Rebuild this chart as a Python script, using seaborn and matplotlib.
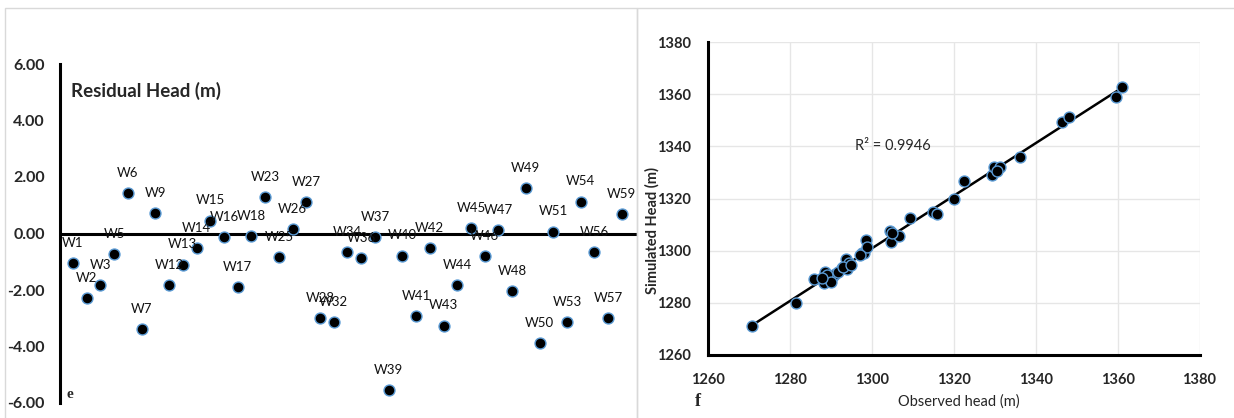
import numpy as np
import pandas as pd
import matplotlib
matplotlib.use("Agg")
import matplotlib.pyplot as plt
import seaborn as sns
from matplotlib.patches import Rectangle

# Residual head at each observation well
wells = ["W1", "W2", "W3", "W5", "W6", "W7", "W9", "W12", "W13", "W14",
         "W15", "W16", "W17", "W18", "W23", "W25", "W26", "W27", "W28", "W32",
         "W34", "W36", "W37", "W39", "W40", "W41", "W42", "W43", "W44", "W45",
         "W46", "W47", "W48", "W49", "W50", "W51", "W53", "W54", "W56", "W57",
         "W59"]
residual = [-1.04, -2.28, -1.84, -0.74, 1.44, -3.38, 0.71, -1.84, -1.10, -0.51,
            0.46, -0.12, -1.89, -0.09, 1.29, -0.83, 0.17, 1.11, -3.00, -3.12,
            -0.65, -0.86, -0.13, -5.53, -0.78, -2.91, -0.52, -3.26, -1.84, 0.19,
            -0.80, 0.12, -2.04, 1.60, -3.88, 0.07, -3.14, 1.13, -0.65, -3.00,
            0.68]
resid_ticks = [-6, -4, -2, 0, 2, 4, 6]

# Observed vs simulated heads (m)
observed = [1270.7, 1281.4, 1285.8, 1288.6, 1288.4, 1289.6, 1290.6, 1291.1, 1292.6, 1293.6,
            1294.4, 1293.9, 1297.6, 1298.2, 1298.6, 1298.8, 1304.5, 1304.7, 1306.7, 1309.3,
            1315.0, 1315.8, 1320.1, 1322.6, 1329.3, 1329.8, 1331.3, 1336.2, 1346.5, 1348.1,
            1359.5, 1361.1, 1289.0, 1290.0, 1287.8, 1291.8, 1293.0, 1294.8, 1297.0, 1330.5,
            1305.0]
simulated = [1271.1, 1279.8, 1289.1, 1291.9, 1287.5, 1289.0, 1290.3, 1291.0, 1293.2, 1296.8,
             1295.1, 1292.9, 1299.0, 1299.0, 1304.1, 1301.5, 1307.7, 1303.4, 1305.6, 1312.4,
             1314.8, 1314.0, 1320.0, 1326.7, 1329.0, 1331.9, 1332.1, 1336.0, 1349.4, 1351.1,
             1358.9, 1362.9, 1290.5, 1288.0, 1289.6, 1292.0, 1293.8, 1294.4, 1298.5, 1330.6,
             1306.8]
head_ticks = [1260, 1280, 1300, 1320, 1340, 1360, 1380]
r2_text = "R² = 0.9946"

sns.set_theme(style="white")
plt.rcParams["font.family"] = ["Lato", "DejaVu Sans"]

W, H = 1234, 418
fig = plt.figure(figsize=(W / 100, H / 100), dpi=100)


def px_axes(x0, y0, x1, y1):
    return fig.add_axes([x0 / W, 1 - y1 / H, (x1 - x0) / W, (y1 - y0) / H])


def fx(x):
    return x / W


def fy(y):
    return 1 - y / H


# Panel frames
border = "#d9d9d9"
fig.add_artist(Rectangle((fx(5), fy(425)), fx(632), fy(8) - fy(425),
                         transform=fig.transFigure, fill=False, ec=border, lw=1))
fig.add_artist(Rectangle((fx(637), fy(425)), fx(620), fy(8) - fy(425),
                         transform=fig.transFigure, fill=False, ec=border, lw=1))

marker_kw = dict(s=62, color="black", edgecolor="#5b9bd5", linewidth=1.0, zorder=3)

# ---- Residual panel ----
axL = px_axes(60, 64, 637, 403)
axL.patch.set_alpha(0)
resid_df = pd.DataFrame({"well": wells, "pos": np.arange(len(wells)), "residual": residual})
axL.axhline(0, color="black", lw=2.2, zorder=2)
sns.scatterplot(data=resid_df, x="pos", y="residual", ax=axL, legend=False, **marker_kw)
for pos, name, val in zip(resid_df["pos"], resid_df["well"], resid_df["residual"]):
    axL.annotate(name, (pos, val), xytext=(0, 14.5), textcoords="offset points",
                 ha="center", va="center", fontsize=9.5, color="#111111", zorder=4)
axL.set_xlim(-0.95, 41.1)
axL.set_ylim(-6, 6)
axL.set_xticks([])
axL.set_yticks(resid_ticks)
axL.set_yticklabels([f"{v:.2f}" for v in resid_ticks], fontsize=11.5, fontweight="bold")
axL.tick_params(axis="y", length=0, pad=11)
axL.set_xlabel("")
axL.set_ylabel("")
for side in ["top", "right", "bottom"]:
    axL.spines[side].set_visible(False)
axL.spines["left"].set_color("black")
axL.spines["left"].set_linewidth(2.2)

fig.text(fx(71), fy(91), "Residual Head (m)", fontsize=13.5, fontweight="bold",
         ha="left", va="center")
fig.text(fx(70), fy(395), "e", family=["Liberation Serif", "DejaVu Serif"],
         fontsize=11, fontweight="bold", ha="center", va="center")

# ---- Observed vs simulated panel ----
axR = px_axes(708, 42, 1199.5, 355)
axR.patch.set_alpha(0)
axR.grid(True, color="#e6e6e6", lw=1)
axR.set_axisbelow(True)
sns.regplot(x=observed, y=simulated, ax=axR, scatter=False, ci=None,
            color="black", line_kws=dict(lw=1.8, zorder=2))
sns.scatterplot(x=observed, y=simulated, ax=axR, legend=False, **marker_kw)
axR.set_xlim(1260, 1380)
axR.set_ylim(1260, 1380)
axR.set_xticks(head_ticks)
axR.set_yticks(head_ticks)
axR.set_xticklabels([str(v) for v in head_ticks], fontsize=10.5, fontweight="bold")
axR.set_yticklabels([str(v) for v in head_ticks], fontsize=10.5, fontweight="bold")
axR.tick_params(axis="both", length=0)
axR.tick_params(axis="y", pad=12)
axR.tick_params(axis="x", pad=13)
axR.set_xlabel("")
axR.set_ylabel("")
for side in ["top", "right"]:
    axR.spines[side].set_visible(False)
for side in ["left", "bottom"]:
    axR.spines[side].set_color("black")
    axR.spines[side].set_linewidth(2.2)

fig.text(fx(893), fy(146), r2_text, fontsize=10.5, ha="center", va="center")
fig.text(fx(959), fy(402), "Observed head (m)", fontsize=10.5, ha="center", va="center")
fig.text(fx(652), fy(230), "Simulated Head (m)", fontsize=10.5, fontweight="bold",
         rotation=90, ha="center", va="center")
fig.text(fx(698), fy(402), "f", family=["Liberation Serif", "DejaVu Serif"],
         fontsize=13, fontweight="bold", ha="center", va="center")

fig.savefig("out.png", dpi=100, facecolor="white")
